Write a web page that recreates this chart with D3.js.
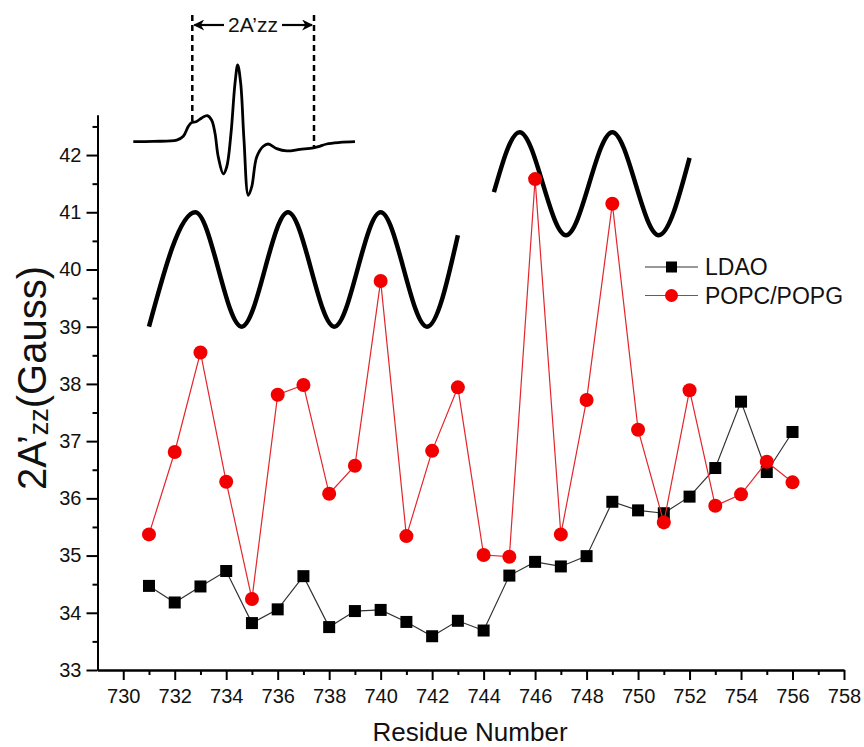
<!DOCTYPE html>
<html>
<head>
<meta charset="utf-8">
<script src="https://cdn.jsdelivr.net/npm/d3@7"></script>
<style>
  body { margin: 0; background: #fff; }
  svg { display: block; font-family: "Liberation Sans", Arial, sans-serif; }
</style>
</head>
<body>
<div id="chart"></div>
<script>
// Residue numbers and 2A'zz values (Gauss)
var residues = [731, 732, 733, 734, 735, 736, 737, 738, 739, 740, 741, 742, 743,
                744, 745, 746, 747, 748, 749, 750, 751, 752, 753, 754, 755, 756];
var ldao = [34.47, 34.18, 34.46, 34.73, 33.82, 34.06, 34.64, 33.75, 34.03, 34.05, 33.84, 33.59, 33.86,
            33.69, 34.65, 34.89, 34.81, 34.99, 35.94, 35.79, 35.74, 36.03, 36.53, 37.69, 36.46, 37.16];
var popc = [35.37, 36.81, 38.55, 36.29, 34.24, 37.81, 37.98, 36.08, 36.57, 39.80, 35.34, 36.83, 37.94,
            35.01, 34.98, 41.58, 35.37, 37.72, 41.15, 37.20, 35.58, 37.89, 35.87, 36.07, 36.64, 36.28];

// Tick values
var xMajor = [730, 732, 734, 736, 738, 740, 742, 744, 746, 748, 750, 752, 754, 756, 758];
var xMinor = [731, 733, 735, 737, 739, 741, 743, 745, 747, 749, 751, 753, 755, 757];
var yMajor = [33, 34, 35, 36, 37, 38, 39, 40, 41, 42];
var yMinor = [33.5, 34.5, 35.5, 36.5, 37.5, 38.5, 39.5, 40.5, 41.5, 42.5];

// Helix schematics (extrema, in axis units)
var helix1 = [[731, 39], [732.8, 41], [734.6, 39], [736.4, 41], [738.2, 39], [740, 41], [741.8, 39], [743, 40.6]];
var helix2 = [[744.4, 41.35], [745.4, 42.4], [747.2, 40.6], [749.0, 42.4], [750.8, 40.6], [752.0, 41.95]];

// Inset EPR spectrum (relative field, relative signal)
var specField  = [0, 20, 43.4, 50, 55, 58.4, 62.7, 68.4, 74, 78.4, 81.7, 85, 90, 93.4, 97.7,
                  101.7, 104.4, 107.4, 110.7, 115, 118.4, 123.4, 130, 135, 143.4, 153.4, 166.7,
                  180, 185, 193.4, 206.7, 221.7];
var specSignal = [0, 0.005, 0.02, 0.07, 0.20, 0.25, 0.26, 0.31, 0.34, 0.28, 0.11, -0.20, -0.42, -0.33, 0.11,
                  0.76, 1.0, 0.76, 0.02, -0.70, -0.59, -0.20, -0.06, -0.03, -0.09, -0.12, -0.10,
                  -0.08, -0.065, -0.03, -0.01, 0];
var specMarks = [59, 180.7];

var width = 864, height = 747;

var svg = d3.select("#chart").append("svg")
    .attr("width", width)
    .attr("height", height);

var x = d3.scaleLinear().domain([729, 758]).range([97.5, 844]);
var y = d3.scaleLinear().domain([33, 42.7]).range([670, 115]);

// Axes
svg.append("g").attr("transform", "translate(0,670)")
    .call(d3.axisBottom(x).tickValues(xMajor).tickSize(10).tickSizeOuter(0).tickPadding(9).tickFormat(d3.format("d")));
svg.append("g").attr("transform", "translate(0,670)")
    .call(d3.axisBottom(x).tickValues(xMinor).tickSize(5).tickSizeOuter(0).tickFormat(""));
svg.append("g").attr("transform", "translate(97.5,0)")
    .call(d3.axisLeft(y).tickValues(yMajor).tickSize(11).tickSizeOuter(0).tickPadding(5).tickFormat(d3.format("d")));
svg.append("g").attr("transform", "translate(97.5,0)")
    .call(d3.axisLeft(y).tickValues(yMinor).tickSize(5).tickSizeOuter(0).tickFormat(""));

svg.selectAll(".domain").attr("stroke", "#000").attr("stroke-width", 2);
svg.selectAll(".tick line").attr("stroke", "#000").attr("stroke-width", 2);
svg.selectAll(".tick text")
    .attr("font-family", "Liberation Sans, Arial, sans-serif")
    .attr("font-size", "20px")
    .attr("fill", "#111");

// Axis titles
svg.append("text")
    .attr("x", 470)
    .attr("y", 741)
    .attr("text-anchor", "middle")
    .attr("font-size", "26px")
    .attr("fill", "#111")
    .text("Residue Number");

var yTitle = svg.append("text")
    .attr("transform", "translate(46,378) rotate(-90)")
    .attr("text-anchor", "middle")
    .attr("font-size", "40px")
    .attr("fill", "#111");
yTitle.append("tspan").text("2A\u2019");
yTitle.append("tspan").attr("font-size", "27px").attr("dy", 2).text("zz");
yTitle.append("tspan").attr("dy", -2).text("(Gauss)");

// Helix schematics
var helixLine = d3.line()
    .x(function (d) { return x(d[0]); })
    .y(function (d) { return y(d[1]); })
    .curve(d3.curveMonotoneX);

[helix1, helix2].forEach(function (h) {
    svg.append("path")
        .datum(h)
        .attr("d", helixLine)
        .attr("fill", "none")
        .attr("stroke", "#000")
        .attr("stroke-width", 4.5);
});

// Inset spectrum
var fx = d3.scaleLinear().domain([0, 221.7]).range([133.3, 355]);
var fy = d3.scaleLinear().domain([0, 1]).range([141.7, 65]);
var specPts = specField.map(function (f, i) { return [f, specSignal[i]]; });
svg.append("path")
    .datum(specPts)
    .attr("d", d3.line().x(function (d) { return fx(d[0]); }).y(function (d) { return fy(d[1]); }).curve(d3.curveCatmullRom))
    .attr("fill", "none")
    .attr("stroke", "#000")
    .attr("stroke-width", 2.8);

var markBottom = [0.26, -0.08];
specMarks.forEach(function (m, i) {
    svg.append("line")
        .attr("x1", fx(m)).attr("x2", fx(m))
        .attr("y1", 15).attr("y2", fy(markBottom[i]))
        .attr("stroke", "#000")
        .attr("stroke-width", 2.5)
        .attr("stroke-dasharray", "6,4");
});

var defs = svg.append("defs");
defs.append("marker")
    .attr("id", "arrow")
    .attr("viewBox", "0 0 10 10")
    .attr("refX", 9).attr("refY", 5)
    .attr("markerWidth", 6).attr("markerHeight", 5)
    .attr("orient", "auto-start-reverse")
    .append("path")
    .attr("d", "M0,0 L10,5 L0,10 L3,5 z")
    .attr("fill", "#000");

svg.append("line")
    .attr("x1", 224).attr("x2", fx(specMarks[0]) + 2)
    .attr("y1", 25).attr("y2", 25)
    .attr("stroke", "#000").attr("stroke-width", 2.2)
    .attr("marker-end", "url(#arrow)");
svg.append("line")
    .attr("x1", 282).attr("x2", fx(specMarks[1]) - 2)
    .attr("y1", 25).attr("y2", 25)
    .attr("stroke", "#000").attr("stroke-width", 2.2)
    .attr("marker-end", "url(#arrow)");
svg.append("text")
    .attr("x", 253)
    .attr("y", 32)
    .attr("text-anchor", "middle")
    .attr("font-size", "21px")
    .attr("fill", "#111")
    .text("2A\u2019zz");

// Data series
var seriesLine = d3.line()
    .x(function (d) { return x(d[0]); })
    .y(function (d) { return y(d[1]); });

var ldaoPts = residues.map(function (r, i) { return [r, ldao[i]]; });
var popcPts = residues.map(function (r, i) { return [r, popc[i]]; });

svg.append("path")
    .datum(ldaoPts)
    .attr("d", seriesLine)
    .attr("fill", "none")
    .attr("stroke", "#333")
    .attr("stroke-width", 1.2);

svg.selectAll("rect.ldao")
    .data(ldaoPts)
    .enter()
    .append("rect")
    .attr("class", "ldao")
    .attr("x", function (d) { return x(d[0]) - 6; })
    .attr("y", function (d) { return y(d[1]) - 6; })
    .attr("width", 12)
    .attr("height", 12)
    .attr("fill", "#000");

svg.append("path")
    .datum(popcPts)
    .attr("d", seriesLine)
    .attr("fill", "none")
    .attr("stroke", "#e3262b")
    .attr("stroke-width", 1.2);

svg.selectAll("circle.popc")
    .data(popcPts)
    .enter()
    .append("circle")
    .attr("class", "popc")
    .attr("cx", function (d) { return x(d[0]); })
    .attr("cy", function (d) { return y(d[1]); })
    .attr("r", 7)
    .attr("fill", "#f20000");

// Legend
var legend = [
    { name: "LDAO", color: "#333", marker: "square" },
    { name: "POPC/POPG", color: "#e3262b", marker: "circle" }
];

var lg = svg.selectAll("g.legend")
    .data(legend)
    .enter()
    .append("g")
    .attr("class", "legend")
    .attr("transform", function (d, i) { return "translate(645," + (267 + i * 28.5) + ")"; });

lg.append("line")
    .attr("x1", 0).attr("x2", 53)
    .attr("y1", 0).attr("y2", 0)
    .attr("stroke", function (d) { return d.color; })
    .attr("stroke-width", 1.2);

lg.filter(function (d) { return d.marker === "square"; })
    .append("rect")
    .attr("x", 21).attr("y", -5.5)
    .attr("width", 11).attr("height", 11)
    .attr("fill", "#000");

lg.filter(function (d) { return d.marker === "circle"; })
    .append("circle")
    .attr("cx", 26.5).attr("cy", 0)
    .attr("r", 6.5)
    .attr("fill", "#f20000");

lg.append("text")
    .attr("x", 60)
    .attr("y", 8)
    .attr("font-size", "23px")
    .attr("fill", "#111")
    .text(function (d) { return d.name; });
</script>
</body>
</html>
